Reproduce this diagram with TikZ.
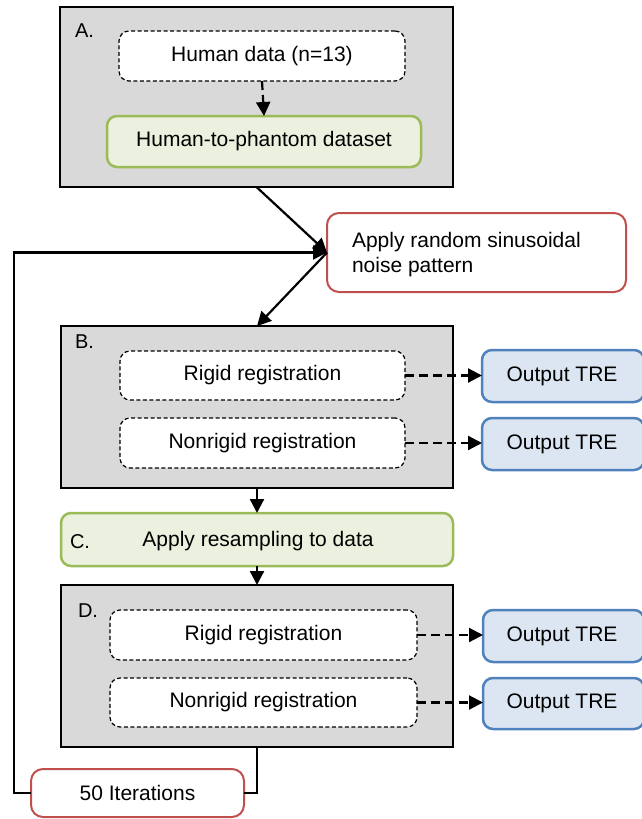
\documentclass[tikz,border=0pt]{standalone}
\usepackage{fontspec}
\setmainfont{Liberation Sans}
\usetikzlibrary{arrows.meta}
\definecolor{panelgray}{HTML}{D9D9D9}
\definecolor{greenline}{HTML}{9BBB59}
\definecolor{greenfill}{HTML}{EBF1DE}
\definecolor{blueline}{HTML}{4F81BD}
\definecolor{bluefill}{HTML}{DCE6F2}
\definecolor{redline}{HTML}{C0504D}

\begin{document}
\begin{tikzpicture}[x=1pt,y=-1pt,
  font=\fontsize{21}{25}\selectfont,
  every node/.style={inner sep=0pt, outer sep=0pt},
  panel/.style={draw=black, line width=2pt, fill=panelgray},
  dashbox/.style={draw=black, line width=1.2pt, dash pattern=on 4pt off 2.5pt,
    fill=white, rounded corners=10pt},
  greenbox/.style={draw=greenline, line width=2.5pt, fill=greenfill, rounded corners=10pt},
  bluebox/.style={draw=blueline, line width=2.5pt, fill=bluefill, rounded corners=10pt},
  redbox/.style={draw=redline, line width=2pt, fill=white, rounded corners=12pt},
  tag/.style={anchor=base west, font=\fontsize{20}{24}\selectfont},
  conn/.style={draw=black, line width=2.2pt},
  arrow/.style={conn, -{Triangle[length=14pt,width=14pt]}},
  dasharrow/.style={arrow, dash pattern=on 9pt off 5pt}
]
\useasboundingbox (0,0) rectangle (642,819);

% panel A: source data
\node[panel, minimum width=393pt, minimum height=180pt] (A) at (256.5,97) {};
\node[tag] at (75,37) {A.};
\node[dashbox, minimum width=286pt, minimum height=50pt] (human) at (262,56) {Human data (n=13)};
\node[greenbox, minimum width=314pt, minimum height=51pt] (h2p) at (264,141.5) {Human-to-phantom dataset};
\draw[dasharrow] (human.south) -- (h2p.north);

% noise step
\node[redbox, minimum width=299pt, minimum height=79pt] (apply) at (476.5,252.5) {};
\node[anchor=west, align=left] at (352,255) {Apply random sinusoidal\\noise pattern};

% panel B: registration on noisy data
\node[panel, minimum width=392pt, minimum height=162pt] (B) at (257,407) {};
\node[tag] at (75,348) {B.};
\node[dashbox, minimum width=285pt, minimum height=49pt] (brigid) at (262.5,375.5) {Rigid registration};
\node[dashbox, minimum width=285pt, minimum height=50pt] (bnonrigid) at (262.5,443) {Nonrigid registration};
\node[bluebox, minimum width=162pt, minimum height=52pt] (bout1) at (563,376) {};
\node at (562,376) {Output TRE};
\node[bluebox, minimum width=162pt, minimum height=52pt] (bout2) at (563,444) {};
\node at (562,444) {Output TRE};
\draw[dasharrow] (brigid.east) -- (brigid.east -| bout1.west);
\draw[dasharrow] (bnonrigid.east) -- (bnonrigid.east -| bout2.west);

% step C: resampling
\node[greenbox, minimum width=392pt, minimum height=53pt] (C) at (257,539.5) {};
\node[tag] at (70,548) {C.};
\node at (258,541) {Apply resampling to data};

% panel D: registration on resampled data
\node[panel, minimum width=392pt, minimum height=162pt] (D) at (257,666) {};
\node[tag] at (78,617) {D.};
\node[dashbox, minimum width=307pt, minimum height=50pt] (drigid) at (263.5,635) {Rigid registration};
\node[dashbox, minimum width=307pt, minimum height=49pt] (dnonrigid) at (263.5,702.5) {Nonrigid registration};
\node[bluebox, minimum width=161pt, minimum height=52pt] (dout1) at (563.5,636) {};
\node at (562,636) {Output TRE};
\node[bluebox, minimum width=161pt, minimum height=51pt] (dout2) at (563.5,703.5) {};
\node at (562,703.5) {Output TRE};
\draw[dasharrow] (drigid.east) -- (drigid.east -| dout1.west);
\draw[dasharrow] (dnonrigid.east) -- (dnonrigid.east -| dout2.west);

% iteration counter
\node[redbox, minimum width=213pt, minimum height=48pt] (iter) at (137.5,793) {50 Iterations};
\coordinate (loopx) at (14,0);

% main flow
\draw[arrow] (A.south) -- (apply.west);
\draw[arrow] (apply.west) -- (B.north);
\draw[arrow] (B.south) -- (C.north);
\draw[arrow] (C.south) -- (D.north);

% loop back to the noise step
\draw[conn] (D.south) |- (iter.east);
\draw[arrow] (iter.west) -| (loopx |- apply.west) -- (apply.west);
\end{tikzpicture}
\end{document}
